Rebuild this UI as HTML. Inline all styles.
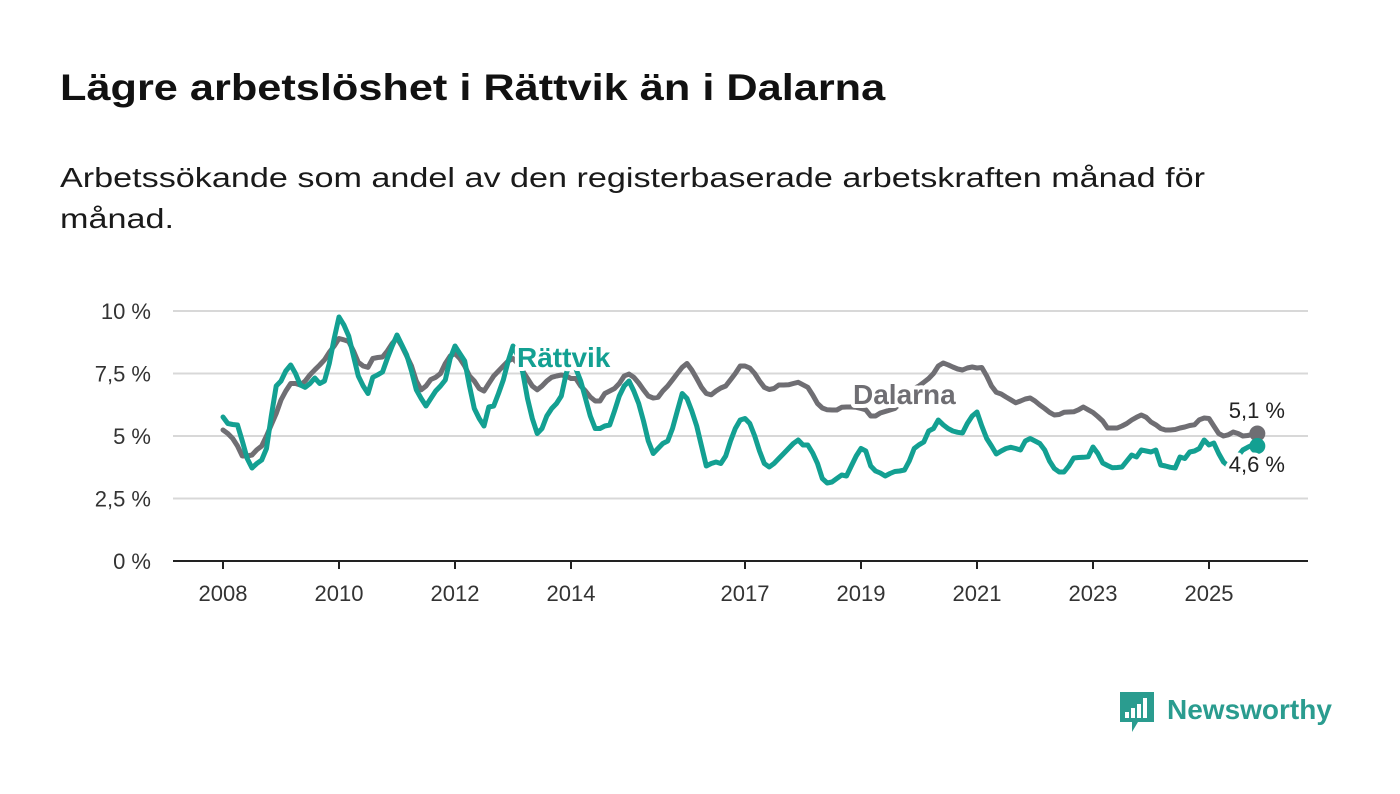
<!DOCTYPE html>
<html lang="sv"><head><meta charset="utf-8"><title>Lägre arbetslöshet i Rättvik än i Dalarna</title>
<style>
body{margin:0;background:#fff;width:1400px;height:794px;overflow:hidden;font-family:"Liberation Sans",sans-serif;color:#111;}
h1{position:absolute;left:60px;top:67px;margin:0;font-size:37px;font-weight:bold;transform:scaleX(1.17);transform-origin:0 0;white-space:nowrap}
p.sub{position:absolute;left:60px;top:157px;margin:0;font-size:28px;line-height:41px;color:#1a1a1a;transform:scaleX(1.22);transform-origin:0 0;white-space:nowrap}
svg{position:absolute;left:0;top:0}
</style></head><body>
<h1>Lägre arbetslöshet i Rättvik än i Dalarna</h1>
<p class="sub">Arbetssökande som andel av den registerbaserade arbetskraften månad för<br>månad.</p>
<svg id="chart" width="1400" height="794"></svg>
<script>
const yTicks=[0,2.5,5,7.5,10];
const yTickLabels=["0 %","2,5 %","5 %","7,5 %","10 %"];
const xTicks=[2008,2010,2012,2014,2017,2019,2021,2023,2025];
const rattvik=[
5.76,5.5,5.46,5.44,4.8,4.1,3.72,3.9,4.04,4.5,5.8,7.0,
7.2,7.6,7.84,7.5,7.04,6.95,7.1,7.32,7.1,7.2,7.9,8.9,
9.76,9.45,9.0,8.2,7.4,7.0,6.7,7.35,7.45,7.56,8.1,8.6,
9.04,8.65,8.24,7.6,6.85,6.5,6.2,6.5,6.8,7.0,7.24,8.1,
8.6,8.3,8.0,7.0,6.1,5.7,5.4,6.16,6.2,6.7,7.24,8.0,
8.6,8.2,7.56,6.5,5.7,5.1,5.3,5.8,6.1,6.3,6.6,7.5,
8.0,7.7,7.2,6.5,5.8,5.3,5.3,5.4,5.44,6.0,6.6,7.0,
7.2,6.8,6.3,5.6,4.8,4.3,4.5,4.7,4.8,5.3,6.0,6.7,
6.5,6.0,5.4,4.6,3.8,3.9,3.96,3.9,4.2,4.8,5.3,5.64,
5.7,5.5,5.0,4.4,3.9,3.76,3.9,4.1,4.3,4.5,4.7,4.84,
4.64,4.64,4.32,3.9,3.3,3.12,3.16,3.3,3.44,3.4,3.8,4.2,
4.5,4.4,3.8,3.6,3.52,3.4,3.5,3.58,3.6,3.64,4.0,4.5,
4.65,4.76,5.2,5.3,5.64,5.45,5.3,5.2,5.15,5.12,5.5,5.8,
5.96,5.4,4.9,4.6,4.28,4.4,4.5,4.55,4.5,4.44,4.8,4.9,
4.8,4.7,4.44,4.0,3.7,3.56,3.56,3.8,4.12,4.14,4.15,4.17,
4.56,4.3,3.92,3.82,3.73,3.74,3.76,4.0,4.24,4.16,4.44,4.4,
4.36,4.44,3.84,3.8,3.75,3.72,4.16,4.1,4.36,4.4,4.5,4.84,
4.64,4.72,4.3,3.96,3.8,4.0,4.2,4.44,4.55,4.64,4.6];
const dalarna=[
5.24,5.1,4.9,4.6,4.2,4.2,4.24,4.45,4.6,5.0,5.45,5.9,
6.44,6.8,7.1,7.1,7.04,7.2,7.45,7.65,7.84,8.05,8.35,8.6,
8.9,8.85,8.78,8.4,7.95,7.8,7.75,8.1,8.14,8.16,8.4,8.7,
8.92,8.6,8.2,7.8,7.2,6.85,7.0,7.26,7.35,7.5,7.9,8.2,
8.3,8.1,7.8,7.4,7.2,6.9,6.8,7.1,7.4,7.6,7.8,8.0,
8.1,7.9,7.6,7.3,7.0,6.85,7.0,7.2,7.35,7.4,7.44,7.4,
7.3,7.3,7.0,6.8,6.56,6.4,6.4,6.7,6.8,6.9,7.1,7.4,
7.48,7.35,7.12,6.85,6.6,6.52,6.55,6.8,7.0,7.25,7.5,7.75,
7.9,7.64,7.3,6.95,6.7,6.65,6.8,6.92,7.0,7.25,7.5,7.8,
7.8,7.72,7.5,7.2,6.95,6.86,6.9,7.04,7.04,7.05,7.1,7.15,
7.05,6.95,6.64,6.3,6.12,6.05,6.04,6.04,6.15,6.16,6.16,6.15,
6.1,6.05,5.8,5.8,5.92,5.98,6.04,6.1,6.3,6.5,6.7,6.9,
7.0,7.15,7.3,7.5,7.8,7.92,7.85,7.76,7.68,7.64,7.72,7.76,
7.72,7.74,7.4,7.0,6.75,6.68,6.56,6.45,6.33,6.4,6.48,6.52,
6.4,6.24,6.1,5.95,5.84,5.86,5.95,5.96,5.97,6.05,6.16,6.05,
5.94,5.78,5.6,5.32,5.32,5.32,5.4,5.5,5.64,5.75,5.84,5.75,
5.56,5.45,5.3,5.24,5.24,5.26,5.32,5.36,5.42,5.45,5.65,5.72,
5.7,5.4,5.1,5.0,5.05,5.16,5.1,5.0,5.02,5.06,5.1];
const startYear=2008;

const NS='http://www.w3.org/2000/svg';
const svg=document.getElementById('chart');
const X=t=>223+(t-startYear)*58;
const Y=v=>561-v*25;
const mx=i=>X(startYear+i/12);
function el(tag,attrs,parent){const e=document.createElementNS(NS,tag);for(const k in attrs)e.setAttribute(k,attrs[k]);(parent||svg).appendChild(e);return e;}

yTicks.forEach((v,i)=>{
  if(v>0){const g=el('line',{x1:173,x2:1308,y1:Y(v),y2:Y(v),stroke:'#d8d8d8','stroke-width':2});
  
  }
  const t=el('text',{x:151,y:Y(v)+8,'text-anchor':'end','font-size':22,fill:'#333'});
  t.textContent=yTickLabels[i];
  
  
});
const ax=el('line',{x1:173,x2:1308,y1:561,y2:561,stroke:'#222','stroke-width':2});


xTicks.forEach(yr=>{
  const tk=el('line',{x1:X(yr),x2:X(yr),y1:561,y2:569,stroke:'#222','stroke-width':2});
  
  
  const t=el('text',{x:X(yr),y:601,'text-anchor':'middle','font-size':22,fill:'#333'});
  t.textContent=yr;
  
  
});
function drawLine(data,color,name){
  const d=data.map((v,i)=>(i?'L':'M')+mx(i).toFixed(1)+','+Y(v).toFixed(1)).join('');
  const p=el('path',{d:d,fill:'none',stroke:color,'stroke-width':5,'stroke-linejoin':'round','stroke-linecap':'round'});
  
  
  const n=data.length-1;
  const c=el('circle',{cx:mx(n),cy:Y(data[n]),r:8,fill:color});
  
  
}
drawLine(dalarna,'#6f6e73','dalarna-line');
drawLine(rattvik,'#13a092','rattvik-line');
function label(txt,x,y,size,color,weight,name,anchor){
  const t=el('text',{x:x,y:y,'font-size':size,fill:color,'font-weight':weight,stroke:'#fff','stroke-width':8,'paint-order':'stroke','stroke-linejoin':'round','text-anchor':anchor||'start'});
  t.textContent=txt;
  
  
}
label('Rättvik',517,367,28,'#13a092','bold','rattvik-series-label');
label('Dalarna',853,404,28,'#6f6e73','bold','dalarna-series-label');
const n=dalarna.length-1;
label(dalarna[n].toFixed(1).replace('.',',')+' %',1285,418,22,'#222','normal','dalarna-end-value','end');
label(rattvik[n].toFixed(1).replace('.',',')+' %',1285,472,22,'#222','normal','rattvik-end-value','end');

const lg=el('g',{});


el('path',{d:'M1120,692 h34 v30 h-16 l-6,10 v-10 h-12 z',fill:'#2a9c8f'},lg);
[[1125,712,4],[1131,708,4],[1137,704,4],[1143,698,4]].forEach(b=>el('rect',{x:b[0],y:b[1],width:b[2],height:718-b[1],fill:'#fff'},lg));
const lt=el('text',{x:1167,y:719,'font-size':28,fill:'#2a9c8f','font-weight':'bold'},lg);
lt.textContent='Newsworthy';
</script>
</body></html>
